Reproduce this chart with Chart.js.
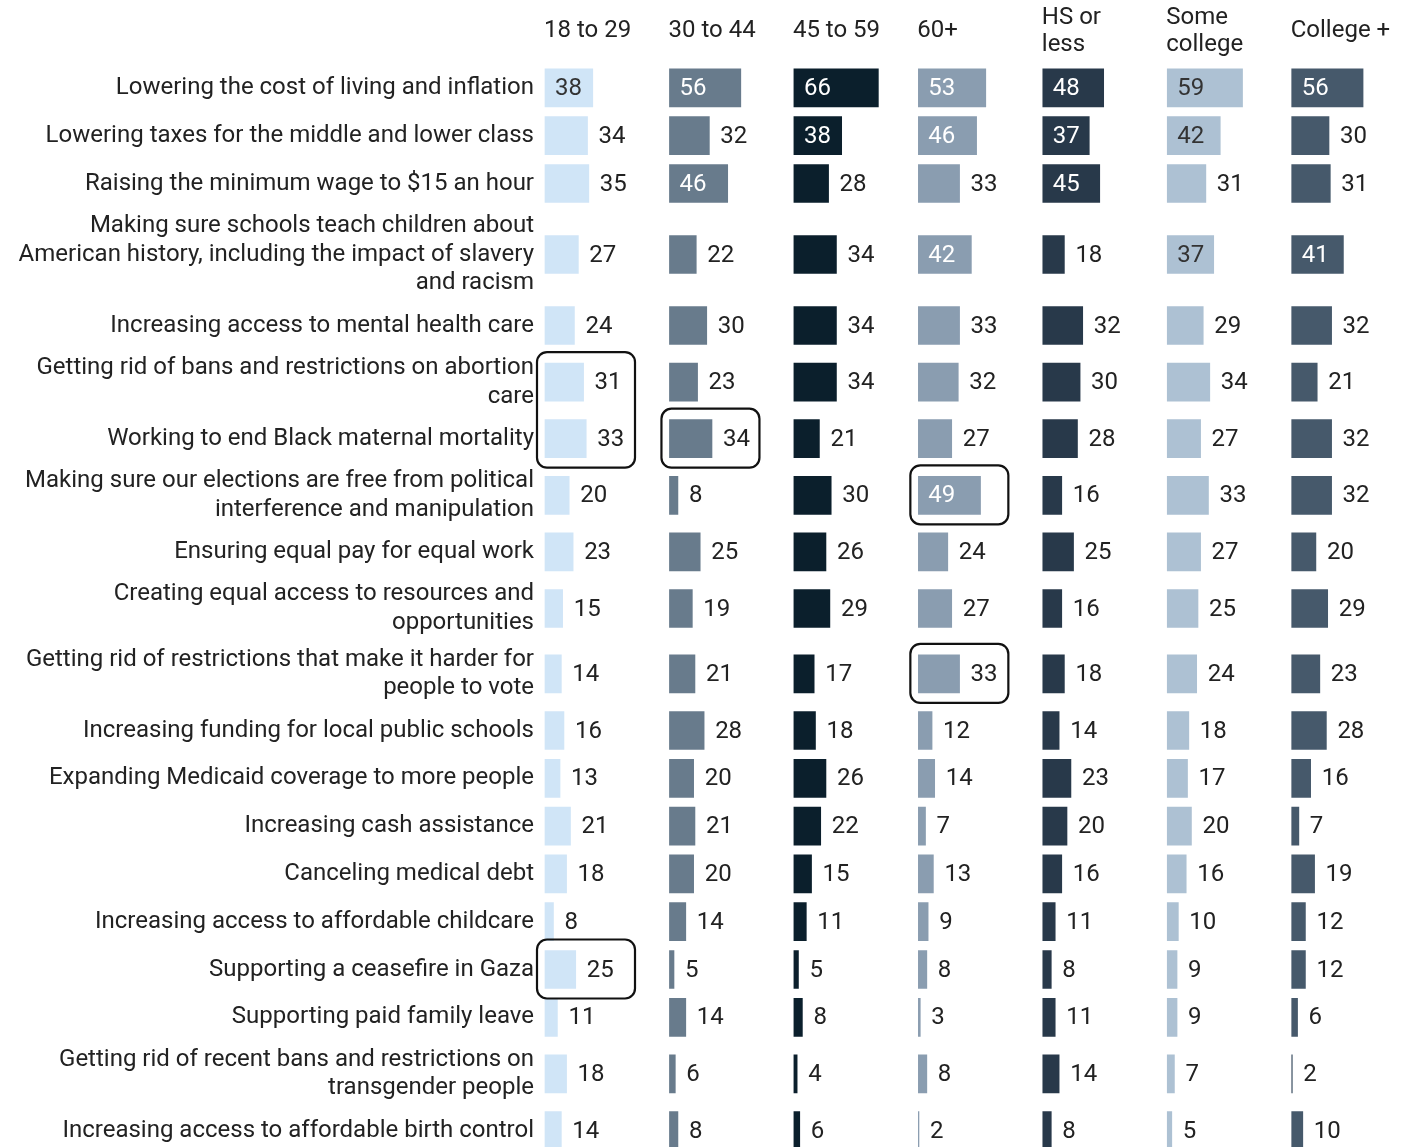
<!DOCTYPE html>
<html>
<head>
<meta charset="utf-8">
<script src="https://cdn.jsdelivr.net/npm/chart.js@4"></script>
<style>
  body { margin: 0; background: #fff; }
  #wrap { position: relative; width: 1420px; height: 1147px; }
</style>
</head>
<body>
<div id="wrap"><canvas id="myChart"></canvas></div>
<script>
const issues = [
  'Lowering the cost of living and inflation',
  'Lowering taxes for the middle and lower class',
  'Raising the minimum wage to $15 an hour',
  ['Making sure schools teach children about', 'American history, including the impact of slavery', 'and racism'],
  'Increasing access to mental health care',
  ['Getting rid of bans and restrictions on abortion', 'care'],
  'Working to end Black maternal mortality',
  ['Making sure our elections are free from political', 'interference and manipulation'],
  'Ensuring equal pay for equal work',
  ['Creating equal access to resources and', 'opportunities'],
  ['Getting rid of restrictions that make it harder for', 'people to vote'],
  'Increasing funding for local public schools',
  'Expanding Medicaid coverage to more people',
  'Increasing cash assistance',
  'Canceling medical debt',
  'Increasing access to affordable childcare',
  'Supporting a ceasefire in Gaza',
  'Supporting paid family leave',
  ['Getting rid of recent bans and restrictions on', 'transgender people'],
  'Increasing access to affordable birth control'
];

const groups = [['18 to 29'], ['30 to 44'], ['45 to 59'], ['60+'], ['HS or', 'less'], ['Some', 'college'], ['College +']];

const age18to29 = [38, 34, 35, 27, 24, 31, 33, 20, 23, 15, 14, 16, 13, 21, 18, 8, 25, 11, 18, 14];
const age30to44 = [56, 32, 46, 22, 30, 23, 34, 8, 25, 19, 21, 28, 20, 21, 20, 14, 5, 14, 6, 8];
const age45to59 = [66, 38, 28, 34, 34, 34, 21, 30, 26, 29, 17, 18, 26, 22, 15, 11, 5, 8, 4, 6];
const age60plus = [53, 46, 33, 42, 33, 32, 27, 49, 24, 27, 33, 12, 14, 7, 13, 9, 8, 3, 8, 2];
const hsOrLess = [48, 37, 45, 18, 32, 30, 28, 16, 25, 16, 18, 14, 23, 20, 16, 11, 8, 11, 14, 8];
const someCollege = [59, 42, 31, 37, 29, 34, 27, 33, 27, 25, 24, 18, 17, 20, 16, 10, 9, 9, 7, 5];
const collegePlus = [56, 30, 31, 41, 32, 21, 32, 32, 20, 29, 23, 28, 16, 7, 19, 12, 12, 6, 2, 10];

const series = [age18to29, age30to44, age45to59, age60plus, hsOrLess, someCollege, collegePlus];
const colors = ['#d0e5f7', '#687b8c', '#0b1f2c', '#8a9db0', '#28394a', '#adc1d3', '#46596b'];
const darkInside = [true, false, false, false, false, true, false];

// boxed cells: [group, first row, last row]
const highlights = [[0, 5, 6], [1, 6, 6], [3, 7, 7], [3, 10, 10], [0, 16, 16]];

const stride = 95;      // units between panels
const insideMin = 36;   // values at or above this get the label inside the bar
const lineH = 28.8;

// row centres from the number of label lines
let acc = 64;
const rowCenters = issues.map(lbl => {
  const lines = Array.isArray(lbl) ? lbl.length : 1;
  const h = Math.max(40, lines * lineH) + 7.8;
  const c = acc + h / 2;
  acc += h;
  return c;
});

const FONT = 'Roboto, "Noto Sans", sans-serif';

const overlay = {
  id: 'overlay',
  afterDatasetsDraw(chart) {
    const {ctx, scales: {x, y}} = chart;
    ctx.save();
    ctx.font = '24px ' + FONT;
    ctx.textBaseline = 'middle';
    ctx.textAlign = 'left';

    // value labels
    chart.data.datasets.forEach((ds, k) => {
      chart.getDatasetMeta(k).data.forEach((bar, i) => {
        const v = series[k][i];
        const left = Math.min(bar.x, bar.base);
        const right = Math.max(bar.x, bar.base);
        if (v >= insideMin) {
          ctx.fillStyle = darkInside[k] ? '#333' : '#fff';
          ctx.fillText(v, left + 11, bar.y + 1);
        } else {
          ctx.fillStyle = '#222';
          ctx.fillText(v, right + 10, bar.y + 1);
        }
      });
    });

    // column headers
    ctx.fillStyle = '#222';
    groups.forEach((g, k) => {
      const px = x.getPixelForValue(k * stride);
      g.forEach((line, j) => {
        ctx.fillText(line, px, 31 + (j - (g.length - 1) / 2) * 27);
      });
    });

    // highlight boxes
    ctx.strokeStyle = '#111';
    ctx.lineWidth = 2.2;
    highlights.forEach(([k, r0, r1]) => {
      const px = x.getPixelForValue(k * stride);
      const top = y.getPixelForValue(rowCenters[r0]) - 30;
      const bottom = y.getPixelForValue(rowCenters[r1]) + 29;
      ctx.beginPath();
      ctx.roundRect(px - 7, top, 98, bottom - top, 10);
      ctx.stroke();
    });
    ctx.restore();
  }
};

const datasets = series.map((vals, k) => ({
  label: groups[k].join(' '),
  data: vals.map((v, i) => ({x: [k * stride, k * stride + v], y: rowCenters[i]})),
  backgroundColor: colors[k],
  borderColor: 'rgba(255,255,255,0.45)',
  borderWidth: 1,
  borderSkipped: false,
  grouped: false,
  barThickness: 40
}));

const myChart = new Chart(document.getElementById('myChart'), {
  type: 'bar',
  data: { datasets: datasets },
  options: {
    indexAxis: 'y',
    responsive: true,
    maintainAspectRatio: false,
    animation: false,
    layout: { padding: 0 },
    plugins: {
      legend: { display: false },
      tooltip: { enabled: false }
    },
    scales: {
      x: {
        type: 'linear',
        display: false,
        min: 0,
        max: 668.7
      },
      y: {
        type: 'linear',
        reverse: true,
        offset: false,
        min: 0,
        max: 1147,
        grid: { display: false, drawTicks: false },
        border: { display: false },
        afterFit: (scale) => {
          scale.width = 544;
          scale.paddingTop = 0;
          scale.paddingBottom = 0;
        },
        afterBuildTicks: (scale) => {
          scale.ticks = rowCenters.map(v => ({value: v}));
        },
        ticks: {
          autoSkip: false,
          padding: 10,
          color: '#222',
          font: { family: FONT, size: 24, lineHeight: 1.2 },
          callback: (value, index) => issues[index]
        }
      }
    }
  },
  plugins: [overlay]
});
</script>
</body>
</html>
